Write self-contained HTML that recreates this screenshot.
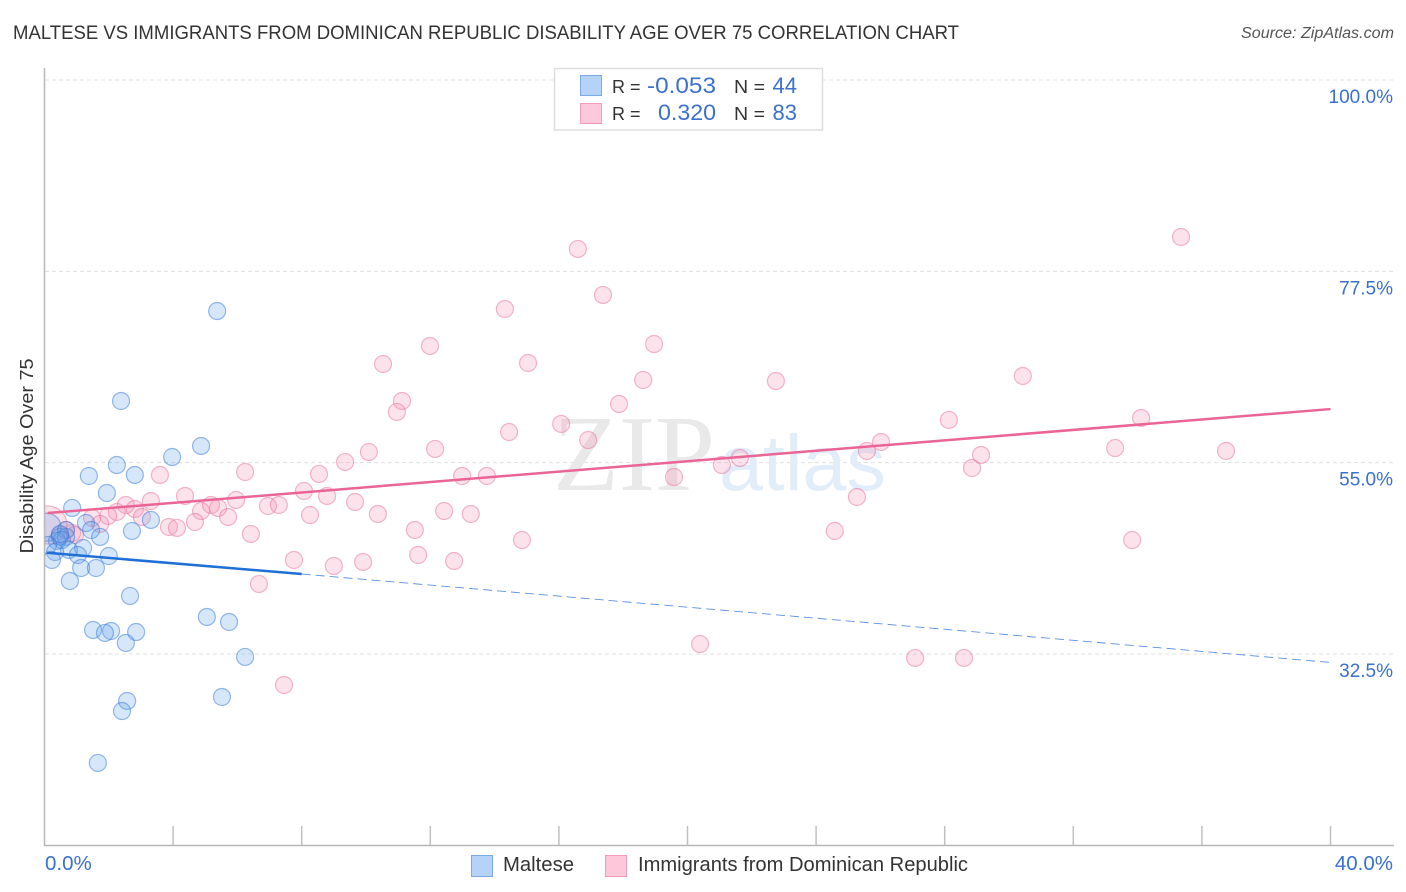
<!DOCTYPE html>
<html lang="en">
<head>
<meta charset="utf-8">
<title>Maltese vs Immigrants from Dominican Republic Disability Age Over 75 Correlation Chart</title>
<style>
html,body{margin:0;padding:0;background:#fff;width:1406px;height:892px;overflow:hidden}
svg{display:block;font-family:"Liberation Sans",sans-serif}
</style>
</head>
<body>
<svg id="chart" xmlns="http://www.w3.org/2000/svg" width="1406" height="892" viewBox="0 0 1406 892">
  <defs>
    <clipPath id="plot-clip"><rect x="45" y="60" width="1350" height="785"/></clipPath>
  </defs>
  <text x="13" y="39" font-size="19.5" fill="#333" textLength="946" lengthAdjust="spacingAndGlyphs">MALTESE VS IMMIGRANTS FROM DOMINICAN REPUBLIC DISABILITY AGE OVER 75 CORRELATION CHART</text>
  <text x="1394" y="38" font-size="15.5" font-style="italic" fill="#555" text-anchor="end" textLength="153" lengthAdjust="spacingAndGlyphs">Source: ZipAtlas.com</text>
  <g id="grid"></g>
  <g>
    <text x="553" y="490" font-family="'Liberation Serif',serif" font-size="108" fill="#e9e9e9">ZIP</text>
    <text x="719" y="490" font-size="79" fill="#e2edfa">atlas</text>
  </g>
  <g id="axes"></g>
  <g id="points" clip-path="url(#plot-clip)"></g>
  <g id="trends"></g>
  <g id="tick-labels"></g>
  <text transform="translate(33,456) rotate(-90)" font-size="18" fill="#333" text-anchor="middle" textLength="195" lengthAdjust="spacingAndGlyphs">Disability Age Over 75</text>

  <g>
    <rect x="554.5" y="68.5" width="268" height="61.5" fill="#fff" stroke="#ddd" stroke-width="1.5"/>
    <rect x="580.5" y="75.5" width="21" height="20" fill="#b5d3f8" stroke="#7aa9e6"/>
    <rect x="580.5" y="103.5" width="21" height="20" fill="#fcc8da" stroke="#f09cba"/>
    <text x="612" y="93" font-size="18" fill="#333">R =</text>
    <text x="647" y="93" font-size="22" fill="#3a70cf" textLength="69" lengthAdjust="spacingAndGlyphs">-0.053</text>
    <text x="734" y="93" font-size="18" fill="#333" textLength="31" lengthAdjust="spacingAndGlyphs">N =</text>
    <text x="797" y="93" font-size="22" fill="#3a70cf" text-anchor="end">44</text>
    <text x="612" y="120" font-size="18" fill="#333">R =</text>
    <text x="658" y="120" font-size="22" fill="#3a70cf" textLength="58" lengthAdjust="spacingAndGlyphs">0.320</text>
    <text x="734" y="120" font-size="18" fill="#333" textLength="31" lengthAdjust="spacingAndGlyphs">N =</text>
    <text x="797" y="120" font-size="22" fill="#3a70cf" text-anchor="end">83</text>
  </g>

  <g>
    <rect x="471.5" y="855.5" width="21" height="21" fill="#b5d3f8" stroke="#7aa9e6"/>
    <text x="503" y="871" font-size="20" fill="#333" textLength="71" lengthAdjust="spacingAndGlyphs">Maltese</text>
    <rect x="605.5" y="855.5" width="21" height="21" fill="#fcc8da" stroke="#f09cba"/>
    <text x="638" y="871" font-size="20" fill="#333" textLength="330" lengthAdjust="spacingAndGlyphs">Immigrants from Dominican Republic</text>
  </g>
</svg>
<script>
const blueX = [0.08,5.37,2.38,4.87,3.97,2.25,1.38,2.81,1.94,0.86,3.31,1.29,2.72,1.45,0.67,1.73,0.48,0.67,0.39,0.54,0.11,1.2,0.76,0.33,1.04,2.0,0.23,1.14,1.6,0.79,2.66,5.05,5.74,1.51,2.07,1.88,2.85,2.53,6.24,2.57,5.52,2.41,1.66,0.48];
const blueY = [47.4,72.83,62.25,56.96,55.66,54.72,53.43,53.55,51.43,49.67,48.26,47.9,46.96,47.08,47.08,46.26,46.26,46.26,45.79,45.9,45.32,44.96,44.73,44.49,44.14,44.02,43.55,42.61,42.61,41.08,39.32,36.85,36.26,35.32,35.2,34.97,35.08,33.79,32.15,26.97,27.44,25.79,19.68,46.6];
const pinkX = [0.11,35.35,16.59,17.37,14.32,11.99,18.96,10.53,15.04,18.62,22.75,30.43,11.12,17.87,10.96,16.07,28.13,34.11,14.45,16.91,12.15,10.09,33.3,36.75,26.02,25.58,21.63,21.07,9.35,28.85,29.13,6.24,3.59,8.54,12.99,13.76,19.58,8.07,4.37,8.79,25.27,5.96,3.31,9.66,5.18,2.53,2.81,6.95,7.29,4.87,5.4,2.25,1.98,1.48,5.71,8.26,10.37,12.43,13.26,4.68,1.73,3.03,3.87,4.12,11.52,24.58,6.42,14.85,33.83,7.76,11.62,9.0,9.91,12.74,6.67,20.39,27.08,28.6,7.45,0.86,0.67,0.95,0.48];
const pinkY = [47.67,81.54,80.13,74.72,73.07,68.72,68.95,66.6,66.72,64.72,64.6,65.19,62.25,61.9,60.96,59.55,60.02,60.25,58.6,57.66,56.61,56.25,56.72,56.37,57.43,56.37,55.55,54.72,55.08,54.37,55.9,53.9,53.55,53.67,53.43,53.43,53.31,51.67,51.08,51.08,50.96,50.61,50.49,50.37,50.02,50.02,49.55,49.9,50.02,49.31,49.67,49.2,48.73,48.49,48.61,48.84,48.96,49.31,48.96,48.02,47.79,48.61,47.43,47.32,47.08,46.96,46.61,45.9,45.9,43.55,44.14,42.85,43.32,43.43,40.73,33.67,32.03,32.03,28.85,46.73,47.08,46.49,46.49];
const yTickValues = [100,77.5,55,32.5];
const yTickLabels = ["100.0%","77.5%","55.0%","32.5%"];
const xTickValues = [0,4,8,12,16,20,24,28,32,36,40];
const xEndLabels = ["0.0%","40.0%"];
const blueTrendX = [0.08,8,40];
const blueTrendY = [44.4,41.9,31.5];
const pinkTrendX = [0.1,40];
const pinkTrendY = [49.07,61.3];

const NS = "http://www.w3.org/2000/svg";
function xScale(v){ return 44.5 + v * 32.15; }
function yScale(v){ return 80 + (100 - v) * 8.503; }
function make(tag, parent, attrs){
  const el = document.createElementNS(NS, tag);
  for (const k in attrs) el.setAttribute(k, attrs[k]);
  document.getElementById(parent).appendChild(el);
  return el;
}

yTickValues.forEach(function(v){
  const el = make("line", "grid", {x1:45, x2:1394, y1:yScale(v), y2:yScale(v), stroke:"#e0e0e0", "stroke-width":1, "stroke-dasharray":"4 3"});
  
  
});

const yAxis = make("line", "axes", {x1:44.5, x2:44.5, y1:68, y2:846, stroke:"#b8b8b8", "stroke-width":1.5});


const xAxis = make("line", "axes", {x1:44, x2:1394, y1:845.5, y2:845.5, stroke:"#b8b8b8", "stroke-width":1.5});


xTickValues.slice(1).forEach(function(v){
  const t = make("line", "axes", {x1:xScale(v), x2:xScale(v), y1:826, y2:845, stroke:"#c0c0c0", "stroke-width":1.5});
  
  
});

function drawPoints(xs, ys, fill, stroke, bigR, name){
  xs.forEach(function(x, i){
    const c = make("circle", "points", {cx:xScale(x), cy:yScale(ys[i]), r:(i === 0 ? bigR : 8.5), fill:fill, "fill-opacity":0.26, stroke:stroke, "stroke-opacity":0.5, "stroke-width":1.2});
    
    
  });
}
drawPoints(pinkX, pinkY, "#f590b2", "#e8729c", 19, "point-dominican");
drawPoints(blueX, blueY, "#66a3ec", "#2f78d6", 14, "point-maltese");

const blueDash = make("line", "trends", {x1:xScale(blueTrendX[1]), y1:yScale(blueTrendY[1]), x2:xScale(blueTrendX[2]), y2:yScale(blueTrendY[2]), stroke:"#5b92dd", "stroke-width":0.9, "stroke-dasharray":"9 5"});


const blueLine = make("line", "trends", {x1:xScale(blueTrendX[0]), y1:yScale(blueTrendY[0]), x2:xScale(blueTrendX[1]), y2:yScale(blueTrendY[1]), stroke:"#1f6fd6", "stroke-width":2.5});


const pinkLine = make("line", "trends", {x1:xScale(pinkTrendX[0]), y1:yScale(pinkTrendY[0]), x2:xScale(pinkTrendX[1]), y2:yScale(pinkTrendY[1]), stroke:"#ea6595", "stroke-width":2.5});



yTickValues.forEach(function(v, i){
  const t = make("text", "tick-labels", {x:1393, y:yScale(v) + 23, "font-size":19, fill:"#3a70cf", "text-anchor":"end"});
  
  
  t.textContent = yTickLabels[i];
});
const xLeft = make("text", "tick-labels", {x:45, y:870, "font-size":20.5, fill:"#3a70cf"});


xLeft.textContent = xEndLabels[0];
const xRight = make("text", "tick-labels", {x:1393, y:870, "font-size":20.5, fill:"#3a70cf", "text-anchor":"end"});


xRight.textContent = xEndLabels[1];
</script>
</body>
</html>
